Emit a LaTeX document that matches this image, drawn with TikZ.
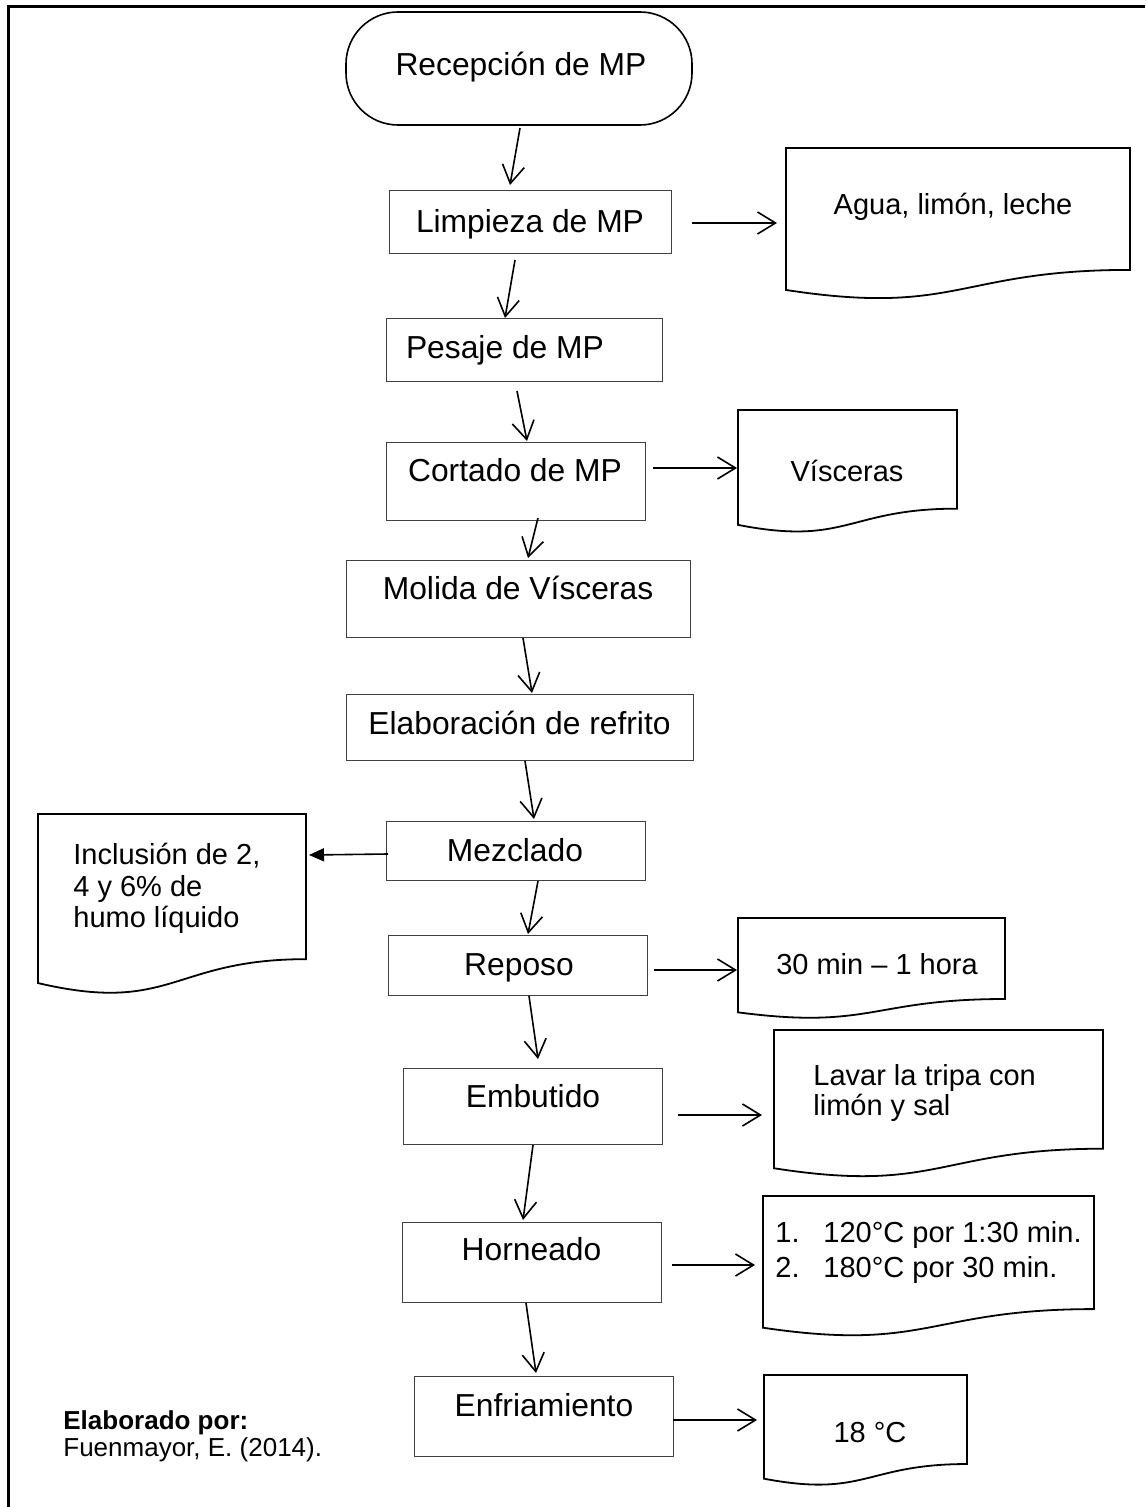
\documentclass[tikz,border=0pt]{standalone}
\usepackage{fontspec}
\setmainfont{Liberation Sans}
\usetikzlibrary{arrows.meta,calc}
\tikzset{
 proc/.style={draw=black!75, line width=0.5pt, inner sep=0, outer sep=0},
 term/.style={draw=black, line width=0.8pt, rounded corners=26pt, inner sep=0, outer sep=0},
 docline/.style={draw=black, line width=0.9pt},
 arr/.style={draw=black, line width=0.8pt, -{Straight Barb[length=9pt,width=11pt]}},
 arrf/.style={draw=black, line width=0.8pt, -{Triangle[length=7.5pt,width=6.5pt]}},
 mtxt/.style={font=\fontsize{15.9}{19}\selectfont, inner sep=0, anchor=base},
 stxt/.style={font=\fontsize{14.5}{17}\selectfont, inner sep=0, anchor=base},
 stxtl/.style={font=\fontsize{14.5}{17}\selectfont, inner sep=0, anchor=base west},
 ctxt/.style={font=\fontsize{13}{15}\selectfont, inner sep=0, anchor=base west},
}
\newcommand\flowdoc[5]{%
  \draw[docline] (#2,#3) -- (#4,#3) -- (#4,{#3+0.802*#5})
    .. controls ({(#2+#4)/2},{#3+0.802*#5}) and ({(#2+#4)/2},{#3+1.108*#5}) .. (#2,{#3+0.934*#5}) -- cycle;
  \node[inner sep=0,outer sep=0,minimum width={(#4-#2)*0.5pt},minimum height={0.802*#5*0.5pt},anchor=north west] (#1) at (#2,#3) {};
}
\begin{document}
\begin{tikzpicture}[x=0.5pt,y=-0.5pt]
\useasboundingbox (0,0) rectangle (1145,1507);
\draw[line width=1.5pt] (8,1507) -- (8,6.5) -- (1145,6.5);

% main column
\node[term, minimum width=173pt, minimum height=56.5pt] (recep) at (519,68.5) {};
\node[mtxt] (trecep) at (521,76) {Recepción de MP};
\node[proc, minimum width=141pt, minimum height=31.5pt] (limp) at (530,222.5) {};
\node[mtxt] (tlimp) at (530,233) {Limpieza de MP};
\node[proc, minimum width=138pt, minimum height=31.5pt] (pes) at (524,350.5) {};
\node[mtxt] (tpes) at (505,359) {Pesaje de MP};
\node[proc, minimum width=129.5pt, minimum height=38.5pt] (cort) at (515.5,481.5) {};
\node[mtxt] (tcort) at (515,482) {Cortado de MP};
\node[proc, minimum width=172pt, minimum height=38.5pt] (mol) at (518,598.5) {};
\node[mtxt] (tmol) at (518,599) {Molida de Vísceras};
\node[proc, minimum width=173.5pt, minimum height=33pt] (elab) at (519.5,727) {};
\node[mtxt] (telab) at (519.5,734) {Elaboración de refrito};
\node[proc, minimum width=129.5pt, minimum height=29.5pt] (mez) at (515.5,850.5) {};
\node[mtxt] (tmez) at (515,861) {Mezclado};
\node[proc, minimum width=129.5pt, minimum height=30pt] (rep) at (517.5,965) {};
\node[mtxt] (trep) at (519,975) {Reposo};
\node[proc, minimum width=129.5pt, minimum height=38pt] (emb) at (532.5,1106) {};
\node[mtxt] (temb) at (533,1107) {Embutido};
\node[proc, minimum width=129.5pt, minimum height=40pt] (horn) at (531.5,1262) {};
\node[mtxt] (thorn) at (531.5,1260) {Horneado};
\node[proc, minimum width=129.5pt, minimum height=40pt] (enfr) at (543.5,1416) {};
\node[mtxt] (tenfr) at (544,1416) {Enfriamiento};

% documents
\flowdoc{agua}{786}{148}{1130}{152}
\node[stxt] (tagua) at (953,215) {Agua, limón, leche};
\flowdoc{visc}{738}{410}{957}{123}
\node[stxt] (tvisc) at (847,481) {Vísceras};
\flowdoc{incl}{38}{814}{306}{181}
\node[stxtl] (tincl1) at (73,864) {Inclusión de 2,};
\node[stxtl] (tincl2) at (73,896) {4 y 6\% de};
\node[stxtl] (tincl3) at (73,927) {humo líquido};
\flowdoc{treinta}{738}{918}{1005}{101}
\node[stxt] (ttreinta) at (877,974) {30 min – 1 hora};
\flowdoc{lavar}{774}{1030}{1103}{148}
\node[stxtl] (tlavar1) at (813,1085) {Lavar la tripa con};
\node[stxtl] (tlavar2) at (813,1115) {limón y sal};
\flowdoc{horno}{763}{1196}{1094}{141}
\node[stxtl] (thorno1) at (775,1242) {\makebox[24pt][l]{1.}120°C por 1:30 min.};
\node[stxtl] (thorno2) at (775,1277) {\makebox[24pt][l]{2.}180°C por 30 min.};
\flowdoc{dieci}{764}{1375}{967}{111}
\node[stxt] (tdieci) at (870,1442) {18 °C};

% vertical arrows
\draw[arr] ($(recep.south)+(1,3)$) -- ($(limp.north)+(-20,-6)$);
\draw[arr] ($(limp.south)+(-15,6)$) -- ($(pes.north)+(-19,-1)$);
\draw[arr] ($(pes.south)+(-7,9)$) -- ($(cort.north)+(11.5,-2)$);
\draw[arr] ($(cort.south)+(22.5,-2)$) -- ($(mol.north)+(10,-2)$);
\draw[arr] ($(mol.south)+(5,1)$) -- ($(elab.north)+(12.5,-1)$);
\draw[arr] ($(elab.south)+(5.5,1)$) -- ($(mez.north)+(18.5,-2)$);
\draw[arr] ($(mez.south)+(22.5,1)$) -- ($(rep.north)+(10.5,-1)$);
\draw[arr] ($(rep.south)+(11.5,1)$) -- ($(emb.north)+(5.5,-9)$);
\draw[arr] ($(emb.south)+(0.5,1)$) -- ($(horn.north)+(-8.5,-2)$);
\draw[arr] ($(horn.south)+(-5.5,1)$) -- ($(enfr.north)+(-7.5,-3)$);

% horizontal arrows
\draw[arr] ($(limp.east)+(21,0.5)$) -- ($(limp.east -| agua.west)+(-9,0.5)$);
\draw[arr] ($(cort.east)+(8,-13.5)$) -- ($(cort.east -| visc.west)+(-1,-13.5)$);
\draw[arrf] ($(mez.west)+(2,3.5)$) -- ($(mez.west -| incl.east)+(3,4.5)$);
\draw[arr] ($(rep.east)+(7,5)$) -- ($(rep.east -| treinta.west)+(-1,5)$);
\draw[arr] ($(emb.east)+(16,9)$) -- ($(emb.east -| lavar.west)+(-12,9)$);
\draw[arr] ($(horn.east)+(11,3)$) -- ($(horn.east -| horno.west)+(-8,3)$);
\draw[arr] ($(enfr.east)+(0,4)$) -- ($(enfr.east -| dieci.west)+(-7,4)$);

% credit
\node[ctxt, font=\fontsize{13}{15}\selectfont\bfseries] (cred1) at (63,1429) {Elaborado por:};
\node[ctxt] (cred2) at (63,1456) {Fuenmayor, E. (2014).};
\end{tikzpicture}
\end{document}
